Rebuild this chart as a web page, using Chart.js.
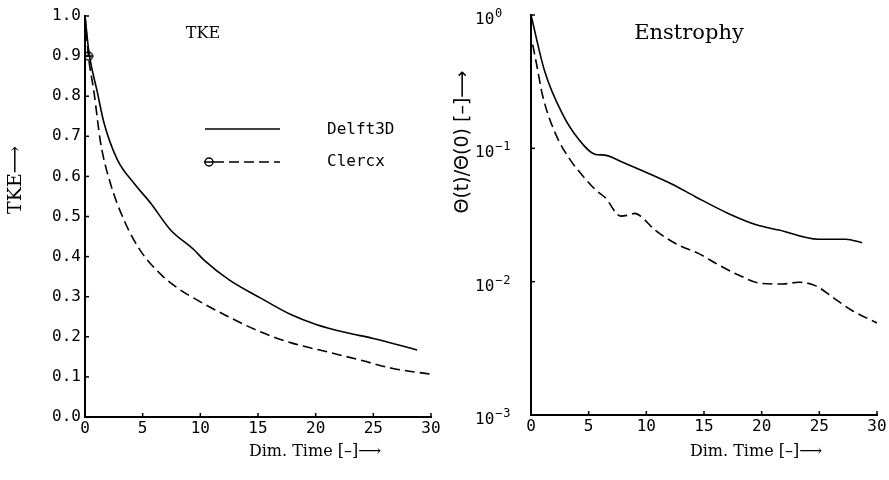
<!DOCTYPE html>
<html><head><meta charset="utf-8">
<script src="https://cdn.jsdelivr.net/npm/chart.js@4"></script>
<style>
html,body{margin:0;padding:0;background:#fff;width:889px;height:480px;overflow:hidden}
#c1{position:absolute;left:0;top:0}
#c2{position:absolute;left:445px;top:0}
</style></head><body>
<canvas id="c1" width="445" height="480"></canvas>
<canvas id="c2" width="444" height="480"></canvas>
<script>
// ---- data ----
const xTicks = [0, 5, 10, 15, 20, 25, 30];
const tkeTicks = [0, 0.1, 0.2, 0.3, 0.4, 0.5, 0.6, 0.7, 0.8, 0.9, 1.0];
const ensTicks = [0.001, 0.01, 0.1, 1];
const seriesNames = ['Delft3D', 'Clercx'];
const panelTitles = ['TKE', 'Enstrophy'];
const xTitle = 'Dim. Time [–]⟶';
const yTitles = ['TKE⟶', 'Θ(t)/Θ(0) [–]⟶'];

const tkeDelftT = [0, 0.35, 1.07, 1.65, 2.8, 4.25, 5.7, 7.4, 9.45, 10.3, 12.5, 15.2, 17.8, 20.1, 22.7, 25.0, 28.8];
const tkeDelft  = [1.0, 0.908, 0.81, 0.733, 0.642, 0.583, 0.533, 0.467, 0.417, 0.392, 0.342, 0.297, 0.256, 0.230, 0.210, 0.196, 0.167];
const tkeClercxT = [0, 0.3, 0.78, 1.36, 2.2, 3.4, 4.8, 6.6, 8.0, 9.4, 12.3, 15.2, 18.1, 21.0, 23.85, 26.7, 29.9];
const tkeClercx  = [1.0, 0.90, 0.81, 0.683, 0.583, 0.490, 0.415, 0.355, 0.322, 0.297, 0.252, 0.2125, 0.183, 0.1625, 0.142, 0.121, 0.107];

const ensDelftT = [0, 1.2, 2.7, 4.1, 5.6, 6.4, 7.9, 9.3, 12.2, 14.25, 17.1, 19.6, 21.5, 24.9, 27.3, 28.7];
const ensDelft  = [1.0, 0.375, 0.183, 0.118, 0.090, 0.089, 0.079, 0.070, 0.054, 0.0434, 0.0325, 0.0266, 0.0244, 0.0208, 0.0208, 0.0196];
const ensClercxT = [0.15, 0.5, 1.0, 2.1, 3.4, 4.5, 5.7, 6.4, 7.8, 8.4, 9.0, 9.5, 10.75, 12.8, 14.5, 16.3, 18.0, 20.0, 21.8, 23.2, 24.7, 26.1, 27.8, 30.0];
const ensClercx  = [0.60, 0.42, 0.25, 0.13, 0.082, 0.062, 0.048, 0.043, 0.031, 0.0315, 0.0325, 0.031, 0.0244, 0.0188, 0.0163, 0.0133, 0.0112, 0.0097, 0.0096, 0.0099, 0.0093, 0.0077, 0.0061, 0.0049];

// ---- helpers ----
const pts = (xs, ys) => xs.map((x, i) => ({x: x, y: ys[i]}));
const marker = document.createElement('canvas');
marker.width = 12; marker.height = 12;
(function(){ const m = marker.getContext('2d'); m.strokeStyle = '#000'; m.lineWidth = 1.5;
  m.beginPath(); m.arc(6, 6, 4, 0, Math.PI * 2); m.stroke();
  m.beginPath(); m.moveTo(1, 6); m.lineTo(11, 6); m.stroke(); })();

function drawMarker(ctx, x, y) {
  ctx.save(); ctx.strokeStyle = '#000'; ctx.lineWidth = 1.5;
  ctx.beginPath(); ctx.arc(x, y, 4, 0, Math.PI * 2); ctx.stroke();
  ctx.beginPath(); ctx.moveTo(x - 5, y); ctx.lineTo(x + 5, y); ctx.stroke();
  ctx.restore();
}

function lineDs(label, data, dashed, withMarker) {
  return {
    label: label, data: data, borderColor: '#000', backgroundColor: '#000',
    borderWidth: 1.6, borderDash: dashed ? [10, 5] : [],
    cubicInterpolationMode: 'monotone', fill: false,
    pointStyle: marker,
    pointRadius: c => (withMarker && c.dataIndex === 1) ? 5 : 0,
    pointHoverRadius: 0
  };
}

function decoPlugin(cfg) {
  return {
    id: 'deco' + cfg.idx,
    afterDatasetsDraw(chart) {
      if (cfg.spaceY) chart.ctx.letterSpacing = '3px';
    },
    afterDraw(chart) {
      const ctx = chart.ctx;
      ctx.save();
      ctx.letterSpacing = '0px';
      const xs = chart.scales.x, ys = chart.scales.y;
      const a = chart.chartArea;
      // inward tick marks
      ctx.strokeStyle = '#000'; ctx.lineWidth = 1.5;
      xs.ticks.forEach(t => { const p = xs.getPixelForValue(t.value);
        ctx.beginPath(); ctx.moveTo(p, a.bottom); ctx.lineTo(p, a.bottom - 4); ctx.stroke(); });
      ys.ticks.forEach(t => { const p = ys.getPixelForValue(t.value);
        ctx.beginPath(); ctx.moveTo(a.left, p); ctx.lineTo(a.left + 4, p); ctx.stroke(); });
      ctx.fillStyle = '#000';
      ctx.textBaseline = 'middle';
      // log-axis labels with exponents
      if (cfg.powerLabels) {
        ys.ticks.forEach(t => {
          const p = ys.getPixelForValue(t.value) + 5;
          const e = Math.round(Math.log10(t.value));
          ctx.textAlign = 'left';
          ctx.font = '16px "DejaVu Sans Mono"';
          ctx.fillText('10', 30, p);
          ctx.font = '12px "DejaVu Sans Mono"';
          ctx.letterSpacing = '1px';
          ctx.fillText(e < 0 ? '−' + (-e) : String(e), 50, p - 6);
          ctx.letterSpacing = '0px';
        });
      }
      // panel title
      ctx.font = cfg.titleFont; ctx.textAlign = 'center';
      ctx.fillText(cfg.title, cfg.titleX, 34);
      // x title
      ctx.font = '16px "DejaVu Serif"';
      ctx.fillText(xTitle, cfg.xTitleX, 452);
      // y title
      ctx.save();
      ctx.translate(cfg.yTitleX, cfg.yTitleY); ctx.rotate(-Math.PI / 2);
      ctx.font = cfg.yTitleFont; ctx.textAlign = 'center';
      ctx.fillText(cfg.yTitle, 0, 0);
      ctx.restore();
      // legend
      if (cfg.legend) {
        ctx.lineWidth = 1.6; ctx.strokeStyle = '#000';
        ctx.beginPath(); ctx.moveTo(205, 129); ctx.lineTo(280, 129); ctx.stroke();
        ctx.setLineDash([10, 5]);
        ctx.beginPath(); ctx.moveTo(214, 162); ctx.lineTo(280, 162); ctx.stroke();
        ctx.setLineDash([]);
        drawMarker(ctx, 209, 162);
        ctx.font = '16px "DejaVu Sans Mono"'; ctx.textAlign = 'left';
        ctx.fillText(seriesNames[0], 327, 130);
        ctx.fillText(seriesNames[1], 327, 162);
      }
      ctx.restore();
    }
  };
}

const tickFont = {family: 'DejaVu Sans Mono', size: 16};
Chart.defaults.animation = false;

// ---- left chart: TKE ----
new Chart(document.getElementById('c1'), {
  type: 'line',
  data: { datasets: [
    lineDs(seriesNames[0], pts(tkeDelftT, tkeDelft), false, false),
    lineDs(seriesNames[1], pts(tkeClercxT, tkeClercx), true, true)
  ]},
  options: {
    responsive: false, animation: false, events: [],
    layout: { padding: { top: 16, right: 14, left: 0, bottom: 0 } },
    plugins: { legend: { display: false }, tooltip: { enabled: false } },
    scales: {
      x: { type: 'linear', min: 0, max: 30,
        afterBuildTicks: s => { s.ticks = xTicks.map(v => ({value: v})); },
        afterFit: s => { s.height = 63; },
        grid: { display: false, drawTicks: false },
        border: { display: true, color: '#000', width: 2 },
        ticks: { font: tickFont, color: '#000', padding: 2, maxRotation: 0, autoSkip: false } },
      y: { type: 'linear', min: 0, max: 1, z: 1,
        afterBuildTicks: s => { s.ticks = tkeTicks.map(v => ({value: v})); },
        afterFit: s => { s.width = 85; },
        grid: { display: false, drawTicks: false },
        border: { display: true, color: '#000', width: 2 },
        ticks: { font: tickFont, color: '#000', padding: 4, autoSkip: false,
          callback: v => Number(v).toFixed(1) } }
    }
  },
  plugins: [decoPlugin({ idx: 1, spaceY: true, powerLabels: false, title: panelTitles[0], titleX: 203,
    titleFont: '16px "DejaVu Serif"', xTitleX: 315, yTitle: yTitles[0], yTitleX: 16, yTitleY: 180,
    yTitleFont: '19px "DejaVu Serif"', legend: true })]
});

// ---- right chart: Enstrophy ----
new Chart(document.getElementById('c2'), {
  type: 'line',
  data: { datasets: [
    lineDs(seriesNames[0], pts(ensDelftT, ensDelft), false, false),
    lineDs(seriesNames[1], pts(ensClercxT, ensClercx), true, false)
  ]},
  options: {
    responsive: false, animation: false, events: [],
    layout: { padding: { top: 15, right: 12, left: 30, bottom: 0 } },
    plugins: { legend: { display: false }, tooltip: { enabled: false } },
    scales: {
      x: { type: 'linear', min: 0, max: 30,
        afterBuildTicks: s => { s.ticks = xTicks.map(v => ({value: v})); },
        afterFit: s => { s.height = 65; },
        grid: { display: false, drawTicks: false },
        border: { display: true, color: '#000', width: 2 },
        ticks: { font: tickFont, color: '#000', padding: 2, maxRotation: 0, autoSkip: false } },
      y: { type: 'logarithmic', min: 0.001, max: 1,
        afterBuildTicks: s => { s.ticks = ensTicks.map(v => ({value: v})); },
        afterFit: s => { s.width = 56; },
        grid: { display: false, drawTicks: false },
        border: { display: true, color: '#000', width: 2 },
        ticks: { display: false } }
    }
  },
  plugins: [decoPlugin({ idx: 2, spaceY: false, powerLabels: true, title: panelTitles[1], titleX: 244,
    titleFont: '21px "DejaVu Serif"', xTitleX: 311, yTitle: yTitles[1], yTitleX: 18, yTitleY: 142,
    yTitleFont: '19px "DejaVu Sans"', legend: false })]
});
</script>
</body></html>
